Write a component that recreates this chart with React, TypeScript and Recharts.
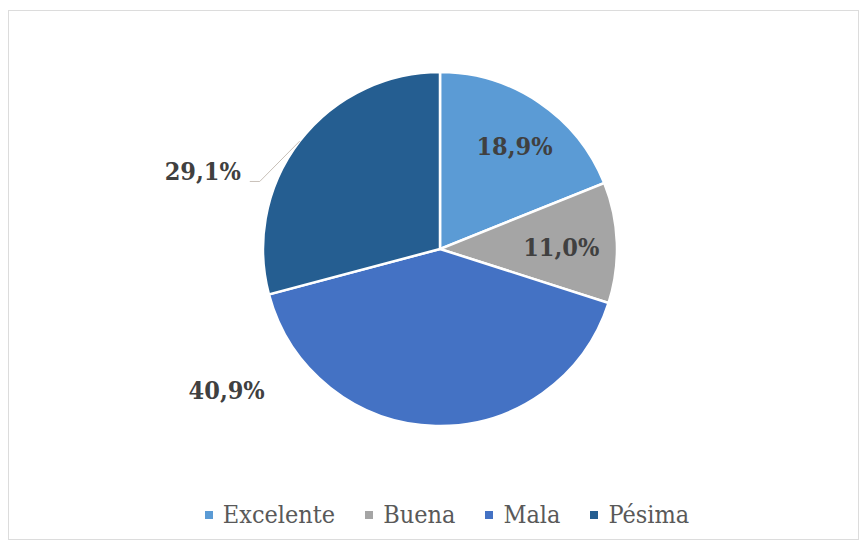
import { PieChart, Pie, Cell, Legend } from 'recharts'

const categories = ['Excelente', 'Buena', 'Mala', 'Pésima']
const shares = [18.9, 11.0, 40.9, 29.1]
const shareLabels = ['18,9%', '11,0%', '40,9%', '29,1%']

const COLORS = ['#5B9BD5', '#A5A5A5', '#4472C4', '#255E91']
const FONT = '"DejaVu Serif Condensed", "DejaVu Serif", serif'
const RAD = Math.PI / 180

// where Excel put each label: compass angle (clockwise from 12 o'clock) and distance in radii
const labelSpots = [
  { compass: 36, r: 0.716, leader: false },
  { compass: 89.5, r: 0.685, leader: false },
  { compass: 236.4, r: 1.447, leader: false },
  { compass: 288.1, r: 1.41, leader: true },
]

const data = categories.map((name, i) => ({ name, value: shares[i], label: shareLabels[i] }))

function renderLabel(props: any) {
  const { cx, cy, outerRadius, midAngle, index } = props
  const spot = labelSpots[index]
  const x = cx + outerRadius * spot.r * Math.sin(spot.compass * RAD)
  const y = cy - outerRadius * spot.r * Math.cos(spot.compass * RAD)
  let leader = null
  if (spot.leader) {
    const ex = cx + outerRadius * Math.cos(-midAngle * RAD)
    const ey = cy + outerRadius * Math.sin(-midAngle * RAD)
    leader = (
      <polyline
        points={`${x + 47},${y + 10} ${x + 57},${y + 10} ${ex},${ey}`}
        fill="none"
        stroke="#C8C0B8"
        strokeWidth={1}
      />
    )
  }
  return (
    <g key={`lbl-${index}`}>
      {leader}
      <text
        x={x}
        y={y}
        textAnchor="middle"
        dominantBaseline="central"
        style={{ fontFamily: FONT }}
        fontWeight="bold"
        fontSize={25}
        fill="#404040"
      >
        {data[index].label}
      </text>
    </g>
  )
}

function renderLegend() {
  return (
    <div
      style={{
        display: 'flex',
        alignItems: 'center',
        justifyContent: 'center',
        fontFamily: FONT,
        fontSize: 25,
        lineHeight: '32px',
        color: '#595959',
        paddingLeft: 33,
      }}
    >
      {categories.map((c, i) => (
        <span key={c} style={{ display: 'flex', alignItems: 'center', marginRight: i < 3 ? 30 : 0 }}>
          <span style={{ display: 'inline-block', width: 8, height: 8, background: COLORS[i], marginRight: 10 }} />
          {c}
        </span>
      ))}
    </div>
  )
}

export default function App() {
  return (
    <div style={{ position: 'absolute', left: 0, top: 0, width: 861, height: 546, background: '#fff' }}>
      <div
        style={{
          position: 'absolute',
          left: 8,
          top: 10,
          width: 851,
          height: 530,
          border: '1px solid #DCDCDC',
          boxSizing: 'border-box',
        }}
      />
      <div style={{ position: 'absolute', left: 0, top: 0 }}>
        <PieChart width={861} height={546} margin={{ top: 0, right: 0, bottom: 0, left: 0 }}>
          <Pie
            data={data}
            dataKey="value"
            nameKey="name"
            cx={440}
            cy={249}
            outerRadius={177}
            startAngle={90}
            endAngle={-270}
            stroke="#FFFFFF"
            strokeWidth={2.5}
            label={renderLabel}
            labelLine={false}
            isAnimationActive={false}
          >
            {data.map((d, i) => (
              <Cell key={d.name} fill={COLORS[i]} />
            ))}
          </Pie>
          <Legend content={renderLegend} wrapperStyle={{ top: 499, left: 0, width: 861 }} />
        </PieChart>
      </div>
    </div>
  )
}
